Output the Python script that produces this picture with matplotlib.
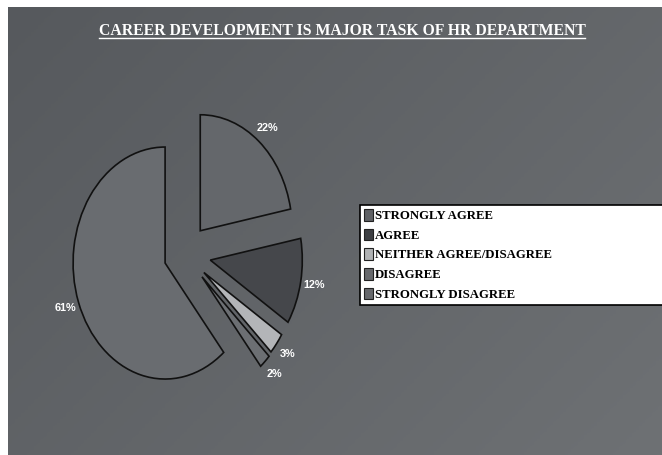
import numpy as np
import matplotlib
matplotlib.use('Agg')
import matplotlib.pyplot as plt
from matplotlib.lines import Line2D

# data
categories = ['STRONGLY AGREE', 'AGREE', 'NEITHER AGREE/DISAGREE', 'DISAGREE', 'STRONGLY DISAGREE']
shares = [22, 12, 3, 2, 61]
title = 'CAREER DEVELOPMENT IS MAJOR TASK OF HR DEPARTMENT'

slice_colors = ['#64676b', '#45474b', '#b3b5b8', '#6c6f73', '#696c70']
explode = [0.26, 0.28, 0.26, 0.27, 0.23]

W, H = 662, 455
fig = plt.figure(figsize=(W / 100, H / 100), dpi=100, facecolor='white')

# gray gradient background (white strip top / left like the scan)
bg = fig.add_axes([8 / W, 0, 1 - 8 / W, (H - 7) / H])
gx, gy = np.meshgrid(np.linspace(0, 1, 200), np.linspace(0, 1, 200))
grad = 0.6 * gx + 0.4 * gy
bg.imshow(grad, cmap=matplotlib.colors.LinearSegmentedColormap.from_list('g', ['#56595d', '#6e7174']),
          aspect='auto', extent=[0, 1, 1, 0])
bg.axis('off')

# pie axes, slightly taller than wide (the original pie is an ellipse)
cx, cy, rx, ry = 185, 254, 92, 116
ax = fig.add_axes([(cx - 1.5 * rx) / W, (H - cy - 1.5 * ry) / H, 3 * rx / W, 3 * ry / H])
ax.patch.set_alpha(0)
wedges, texts, autotexts = ax.pie(
    shares, explode=explode, colors=slice_colors, startangle=90, counterclock=False,
    autopct=lambda p: f'{p:.0f}%', pctdistance=1.15,
    wedgeprops=dict(edgecolor='#111111', linewidth=1.2),
    textprops=dict(color='white', fontweight='bold', fontsize=7.8, family='Liberation Sans'))
ax.set_aspect('auto')
ax.set_xlim(-1.5, 1.5)
ax.set_ylim(-1.5, 1.5)
ax.axis('off')

# legend (box runs past the right edge, as in the original)
handle_colors = ['#5f6165', '#3d3f43', '#b0b2b4', '#67696d', '#66686c']
handles = [plt.Rectangle((0, 0), 1, 1, facecolor=c, edgecolor='#222222', linewidth=0.8)
           for c in handle_colors]
leg = fig.legend(handles, categories, loc='upper left',
                 bbox_to_anchor=(360 / W, 1 - 210 / H, 330 / W, 5 / H), mode='expand',
                 frameon=True, fancybox=False, edgecolor='black', facecolor='white', framealpha=1,
                 handlelength=0.75, handleheight=1.05, handletextpad=0.1, labelspacing=0.5,
                 borderpad=0.3, borderaxespad=0,
                 prop=dict(family='Liberation Serif', weight='bold', size=9.2))
leg.get_frame().set_linewidth(1.2)

# underlined title
t = fig.text(342 / W, 1 - 31 / H, title, ha='center', va='center', color='white',
             fontsize=11.3, fontweight='bold', family='Liberation Serif')
fig.canvas.draw()
bb = t.get_window_extent()
fig.add_artist(Line2D([bb.x0 / W, bb.x1 / W], [(bb.y0 + 1) / H, (bb.y0 + 1) / H],
                      color='white', linewidth=1.0))

fig.savefig('out.png', dpi=100, facecolor=fig.get_facecolor())
